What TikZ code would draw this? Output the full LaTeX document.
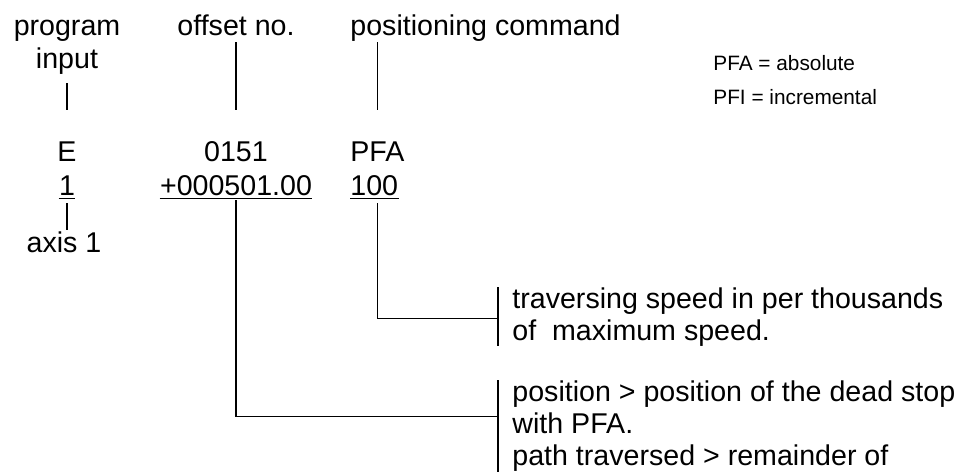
\documentclass[tikz,border=0pt]{standalone}
\usepackage{fontspec}
\setmainfont{Liberation Sans}
\usepackage{tikz}
\usetikzlibrary{calc}
\definecolor{pfink}{HTML}{000000}
\tikzset{
  pftext/.style={inner sep=0pt, text=pfink,
    font=\fontsize{14.3pt}{16pt}\selectfont},
  pfsmall/.style={inner sep=0pt, text=pfink,
    font=\fontsize{10.4pt}{12pt}\selectfont},
  pfnote/.style={pftext, align=left, anchor=north west,
    inner xsep=7pt, inner ysep=0pt},
  pflead/.style={draw=pfink, line width=0.65pt},
}

\begin{document}
\begin{tikzpicture}[x=0.5pt, y=-0.5pt]
\useasboundingbox (0, 0) rectangle (978, 471);

% Header words.
\node[pftext, anchor=base] (prog) at (67, 35) {program};
\node[pftext, anchor=base] (input) at (67, 68) {input};
\node[pftext, anchor=base] (off) at (236, 35) {offset no.};
\node[pftext, anchor=base west] (pcmd) at (350, 35) {positioning command};

% Legend.
\node[pfsmall, anchor=base west] (pfaleg) at (713, 70) {PFA = absolute};
\node[pfsmall, anchor=base west] (pfileg) at (713, 104) {PFI = incremental};

% The command block.
\node[pftext, anchor=base] (E) at (67, 161) {E};
\node[pftext, anchor=base] (offno) at (236, 161) {0151};
\node[pftext, anchor=base west] (pfa) at (350, 161) {PFA};
\node[pftext, anchor=base] (axno) at (67, 195) {1};
\node[pftext, anchor=base] (val) at (236, 195) {+000501.00};
\node[pftext, anchor=base west] (speed) at (350, 195) {100};
\node[pftext, anchor=base] (axis) at (64, 252) {axis 1};

\foreach \n in {axno, val, speed}
  \draw[pflead] ([yshift=-1.75pt]\n.base west) -- ([yshift=-1.75pt]\n.base east);

% Notes.
\node[pfnote] (speednote) at (498, 287)
  {traversing speed in per thousands\\of\ \ maximum speed.};
\node[pfnote] (posnote) at (498, 380)
  {position > position of the dead stop\\with PFA.\\path traversed > remainder of};
\draw[pflead] (speednote.north west) -- (speednote.south west);
\draw[pflead] (posnote.north west) -- ([yshift=-6pt]posnote.south west);

% Leaders.
\draw[pflead] ([yshift=-7.5pt]input.base) -- ([yshift=25.5pt]E.base);
\draw[pflead] ([yshift=-3.5pt]off.base) -- ([yshift=25.5pt]offno.base);
\draw[pflead] ($(pcmd.base -| pfa.base)+(0,-3.5pt)$)
  -- ($(pfa.base)+(0,25.5pt)$);
\draw[pflead] ($(axno.base)+(0,-4pt)$) -- ($(axis.base -| axno.base)+(0,11pt)$);
\draw[pflead] ($(speed.base -| pfa.base)+(0,-4pt)$) |- ($(speednote.west)+(0,-1pt)$);
\draw[pflead] ($(val.base)+(0,-2.5pt)$) |- ($(posnote.west)+(0,4.5pt)$);

\end{tikzpicture}
\end{document}
